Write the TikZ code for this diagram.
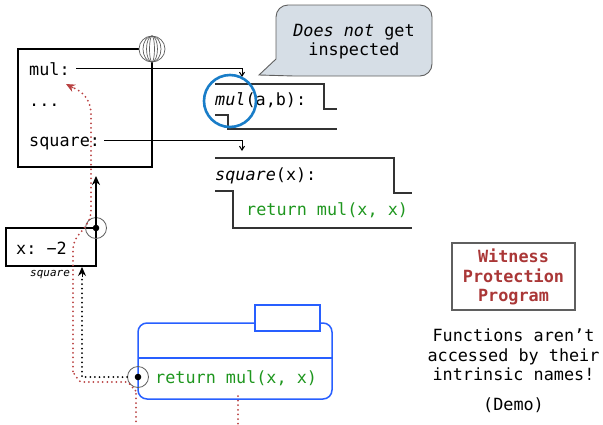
\documentclass[tikz,border=0pt]{standalone}
\usepackage{fontspec}
\setmonofont{DejaVu Sans Mono}
\usetikzlibrary{arrows.meta}
\definecolor{codegreen}{RGB}{30,150,30}
\definecolor{lookupred}{RGB}{185,65,65}
\definecolor{titlered}{RGB}{170,55,55}
\definecolor{ringblue}{RGB}{25,125,200}
\definecolor{framblue}{RGB}{40,95,255}
\definecolor{bubblefill}{RGB}{214,222,230}
\definecolor{edgegray}{RGB}{95,95,95}
\tikzset{
  txt/.style={inner sep=0pt, anchor=base west},
  code/.style={txt, text=codegreen},
  envframe/.style={draw=black, line width=1.3pt},
  funcline/.style={draw=black!80, line width=1.4pt},
  binding/.style={draw=black, line width=1pt, -{Straight Barb[length=4pt,width=5pt]}},
  dotmark/.style={circle, draw=edgegray, line width=0.8pt, minimum size=21pt, inner sep=0pt},
  redtrail/.style={draw=lookupred, line width=2pt, dash pattern=on 0pt off 4.6pt, line cap=round},
  blacktrail/.style={draw=black, line width=2pt, dash pattern=on 0pt off 4.6pt, line cap=round},
}
\begin{document}
\begin{tikzpicture}[x=1pt, y=-1pt, font=\ttfamily\fontsize{16.8}{20}\selectfont]
\useasboundingbox (0,0) rectangle (603,424);

% ---- global frame ----
\draw[envframe] (18,49) rectangle (152,167);
\node[txt] (mulname) at (29,75) {mul:};
\node[txt] (dots) at (29,106) {...};
\node[txt] (sqname) at (29,146) {square:};
% globe on the frame corner
\begin{scope}[draw=edgegray, line width=0.7pt]
  \fill[white] (152,49) circle (13);
  \draw (152,49) circle (13);
  \draw (152,49) ellipse (9 and 13);
  \draw (152,49) ellipse (5.5 and 13);
  \draw (152,49) ellipse (2.5 and 13);
\end{scope}

% ---- function value: mul ----
\coordinate (mulTop) at (242,77);
\draw[funcline] (215,84) -- (324,84) -- (324,109) -- (337,109);
\draw[funcline] (215,115) -- (228,115) -- (228,129) -- (337,129);
\node[txt] (mulsig) at (215,105) {\textit{mul}(a,b):};

% ---- function value: square ----
\coordinate (sqTop) at (242,151);
\draw[funcline] (215,158) -- (394,158) -- (394,193) -- (412,193);
\draw[funcline] (215,191) -- (233,191) -- (233,228) -- (412,228);
\node[txt] (sqsig) at (215,180) {\textit{square}(x):};
\node[code] (sqbody) at (246,215) {return mul(x, x)};

% bindings
\draw[binding] (76,68) -- (242,68) -- (mulTop);
\draw[binding] (104,140) -- (242,140) -- (sqTop);

% highlight ring
\draw[ringblue, line width=2.6pt] (230,101) circle (26);

% ---- speech bubble ----
\draw[edgegray, fill=bubblefill, line width=0.9pt]
  (259,75) -- (276,59) [rounded corners=12pt] -- (276,5) -- (432,5) -- (432,76) [sharp corners] -- (294,76) -- cycle;
\node[txt, anchor=base] (bub1) at (354,36) {\textit{Does not} get};
\node[txt, anchor=base] (bub2) at (354,55) {inspected};

% ---- local frame for square ----
\draw[envframe] (6,228) -- (96,228) -- (96,266) -- (6,266) -- cycle;
\node[txt] (xval) at (16,254) {x: −2};
\node[txt, font=\ttfamily\itshape\fontsize{11}{13}\selectfont] (frlabel) at (30,276) {square};
\node[dotmark] (parentmark) at (96,228) {};
\fill (parentmark.center) circle (3.3);
\coordinate (parentTip) at (96,176);
\draw[line width=2pt, -{Stealth[length=9pt,width=8pt]}] (parentmark.center) -- (parentTip);

% ---- call frame (blue) ----
\draw[framblue, line width=1.5pt, rounded corners=9pt] (138,323) rectangle (332,399);
\draw[framblue, line width=1.5pt] (138,358) -- (332,358);
\draw[framblue, line width=1.5pt, fill=white] (255,305) rectangle (320,331);
\node[dotmark] (callmark) at (138,377) {};
\fill (callmark.center) circle (3.3);
\node[code] (callbody) at (155,383) {return mul(x, x)};

% ---- name lookup trails ----
\coordinate (trailA) at (238,396);
\coordinate (trailAend) at (238,426);
\draw[redtrail] (trailA) -- (trailAend);
\coordinate (trailB) at (136,426);
\coordinate (trailTip) at (66,84);
\draw[redtrail] (trailB) -- (136,390) to[out=-90,in=0] (126,382) -- (82,382) to[out=180,in=90] (73,374)
  -- (73,250) .. controls (73,232) and (91,230) .. (91,210) -- (91,115)
  .. controls (91,100) and (83,92) .. (74,88);
\draw[lookupred, line width=1pt, -{Stealth[length=9pt,width=8pt]}] (73.5,88) -- (trailTip);
\coordinate (blackTip) at (82,267);
\draw[blacktrail] (callmark.west) -- (82,377) -- (82,278);
\draw[line width=1pt, -{Stealth[length=9pt,width=8pt]}] (82,277) -- (blackTip);

% ---- side note ----
\draw[edgegray, line width=1.4pt] (452,243) rectangle (575,310);
\node[txt, anchor=base, text=titlered, font=\ttfamily\bfseries\fontsize{16.8}{20}\selectfont] (w1) at (513.5,262) {Witness};
\node[txt, anchor=base, text=titlered, font=\ttfamily\bfseries\fontsize{16.8}{20}\selectfont] (w2) at (513.5,282) {Protection};
\node[txt, anchor=base, text=titlered, font=\ttfamily\bfseries\fontsize{16.8}{20}\selectfont] (w3) at (513.5,301) {Program};
\node[txt, anchor=base] (n1) at (513.5,341) {Functions aren’t};
\node[txt, anchor=base] (n2) at (513.5,361) {accessed by their};
\node[txt, anchor=base] (n3) at (513.5,380) {intrinsic names!};
\node[txt, anchor=base] (n4) at (513.5,410) {(Demo)};
\end{tikzpicture}
\end{document}
